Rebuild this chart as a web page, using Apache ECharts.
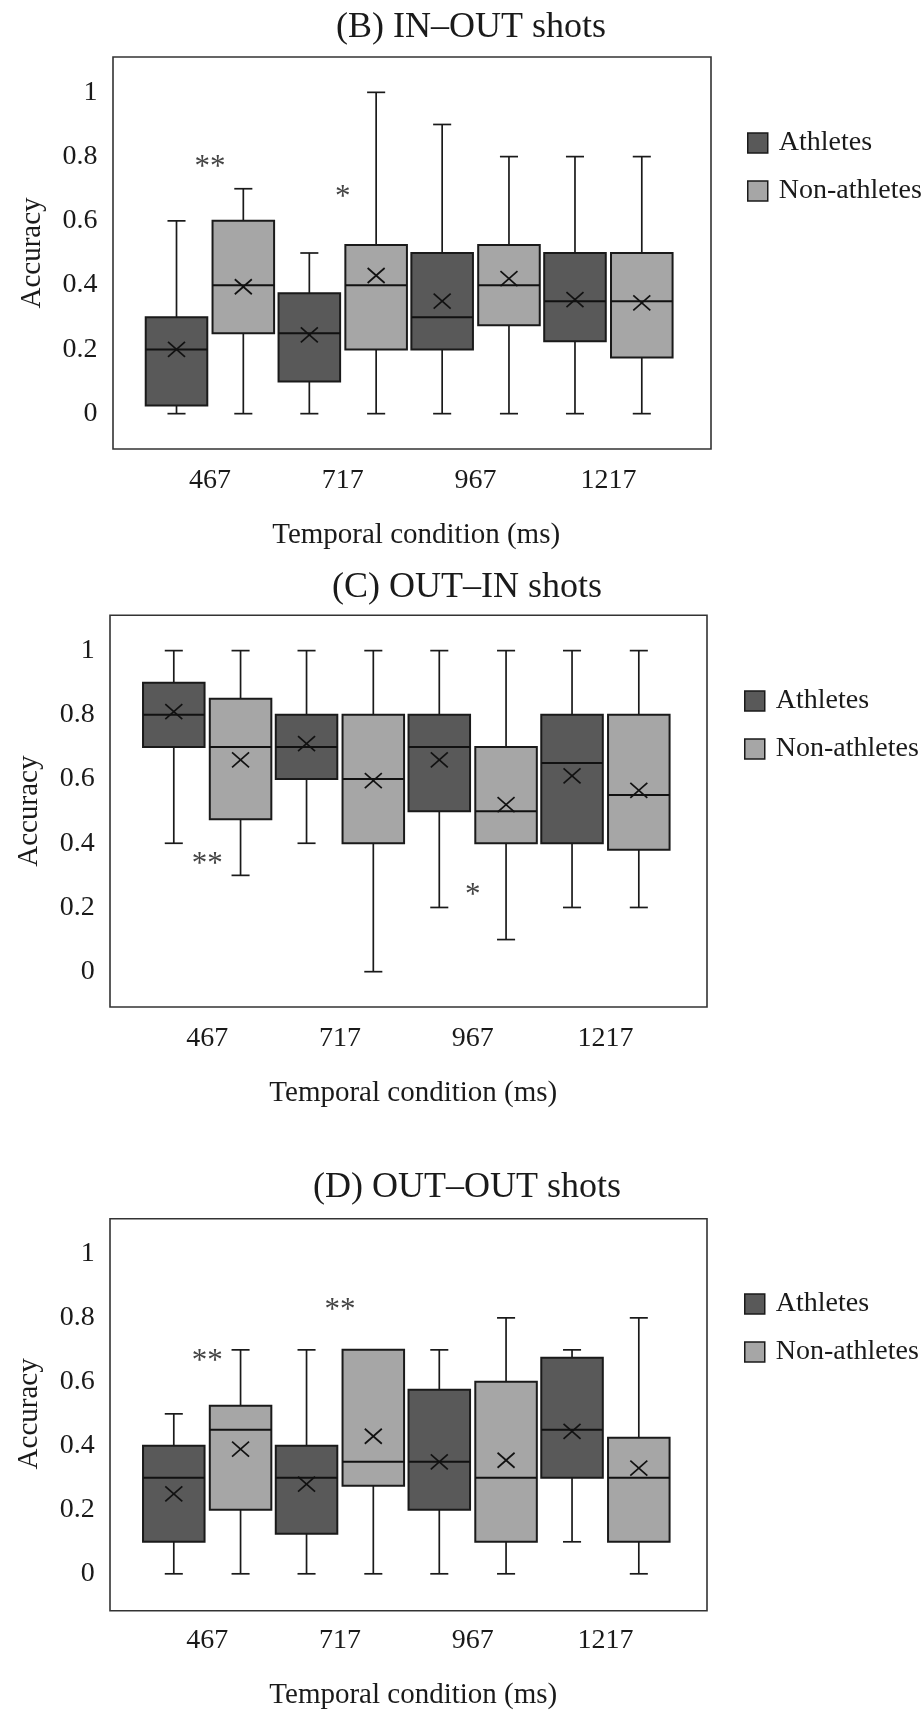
<!DOCTYPE html>
<html><head><meta charset="utf-8">
<script src="https://cdn.jsdelivr.net/npm/echarts@6/dist/echarts.min.js"></script>
<style>html,body{margin:0;padding:0;background:#fff}#c{width:921px;height:1711px}</style>
</head><body><div id="c"></div>
<script>
// ---------- DATA ----------
const categories = ['467', '717', '967', '1217'];
const yTickValues = [0, 0.2, 0.4, 0.6, 0.8, 1];
const seriesNames = ['Athletes', 'Non-athletes'];
const titles = ['(B) IN\u2013OUT shots', '(C) OUT\u2013IN shots', '(D) OUT\u2013OUT shots'];
const xAxisTitle = 'Temporal condition (ms)';
const yAxisTitle = 'Accuracy';

// rows: [min, Q1, median, Q3, max]
const inOutAthletes    = [[0, 0.025, 0.2, 0.3, 0.6], [0, 0.1, 0.25, 0.375, 0.5], [0, 0.2, 0.3, 0.5, 0.9], [0, 0.225, 0.35, 0.5, 0.8]];
const inOutAthletesMean = [0.2, 0.245, 0.35, 0.355];
const inOutNon         = [[0, 0.25, 0.4, 0.6, 0.7], [0, 0.2, 0.4, 0.525, 1.0], [0, 0.275, 0.4, 0.525, 0.8], [0, 0.175, 0.35, 0.5, 0.8]];
const inOutNonMean     = [0.395, 0.43, 0.42, 0.345];
const inOutSig         = [[0, 0.785, '**'], [1, 0.69, '*']];

const outInAthletes    = [[0.4, 0.7, 0.8, 0.9, 1.0], [0.4, 0.6, 0.7, 0.8, 1.0], [0.2, 0.5, 0.7, 0.8, 1.0], [0.2, 0.4, 0.65, 0.8, 1.0]];
const outInAthletesMean = [0.81, 0.71, 0.66, 0.61];
const outInNon         = [[0.3, 0.475, 0.7, 0.85, 1.0], [0, 0.4, 0.6, 0.8, 1.0], [0.1, 0.4, 0.5, 0.7, 1.0], [0.2, 0.38, 0.55, 0.8, 1.0]];
const outInNonMean     = [0.66, 0.595, 0.52, 0.565];
const outInSig         = [[0, 0.35, '**'], [2, 0.255, '*']];

const outOutAthletes   = [[0, 0.1, 0.3, 0.4, 0.5], [0, 0.125, 0.3, 0.4, 0.7], [0, 0.2, 0.35, 0.575, 0.7], [0.1, 0.3, 0.45, 0.675, 0.7]];
const outOutAthletesMean = [0.25, 0.28, 0.35, 0.445];
const outOutNon        = [[0, 0.2, 0.45, 0.525, 0.7], [0, 0.275, 0.35, 0.7, 0.7], [0, 0.1, 0.3, 0.6, 0.8], [0, 0.1, 0.3, 0.425, 0.8]];
const outOutNonMean    = [0.39, 0.43, 0.355, 0.33];
const outOutSig        = [[0, 0.68, '**'], [1, 0.84, '**']];

// ---------- LAYOUT ----------
const FONT = '"Liberation Serif", "Times New Roman", serif';
const TXT = '#1a1a1a';
const DARK = '#595959', LIGHT = '#a6a6a6';
const panels = [
  { title: titles[0], tx: 471, ty: 28, frame: { left: 113, width: 598 }, data: { left: 143.5, width: 531.3 }, top: 57, height: 392,
    legend: { left: 742, top: 124 }, A: inOutAthletes, Am: inOutAthletesMean, N: inOutNon, Nm: inOutNonMean, sig: inOutSig },
  { title: titles[1], tx: 467, ty: 588, frame: { left: 110, width: 597 }, data: { left: 140.8, width: 531 }, top: 615.3, height: 391.7,
    legend: { left: 739, top: 682 }, A: outInAthletes, Am: outInAthletesMean, N: outInNon, Nm: outInNonMean, sig: outInSig },
  { title: titles[2], tx: 467, ty: 1188, frame: { left: 110, width: 597 }, data: { left: 140.8, width: 531 }, top: 1218.7, height: 392,
    legend: { left: 739, top: 1285 }, A: outOutAthletes, Am: outOutAthletesMean, N: outOutNon, Nm: outOutNonMean, sig: outOutSig }
];

function makeBoxRenderer(side, fill) {
  return function (params, api) {
    const ci = api.value(0);
    const band = api.size([1, 0])[0];
    const cx = api.coord([ci, 0])[0] + side * 0.2515 * band;
    const y = k => api.coord([ci, api.value(k)])[1];
    const yMin = y(1), yQ1 = y(2), yMed = y(3), yQ3 = y(4), yMax = y(5), yMean = y(6);
    const bw = 0.4635 * band, cw = 0.136 * band;
    const ls = { stroke: '#1a1a1a', lineWidth: 1.7 };
    const mx = 8.5, my = 7.5;
    return { type: 'group', children: [
      { type: 'line', shape: { x1: cx, y1: yQ1, x2: cx, y2: yMin }, style: ls },
      { type: 'line', shape: { x1: cx, y1: yQ3, x2: cx, y2: yMax }, style: ls },
      { type: 'line', shape: { x1: cx - cw / 2, y1: yMin, x2: cx + cw / 2, y2: yMin }, style: ls },
      { type: 'line', shape: { x1: cx - cw / 2, y1: yMax, x2: cx + cw / 2, y2: yMax }, style: ls },
      { type: 'rect', shape: { x: cx - bw / 2, y: yQ3, width: bw, height: yQ1 - yQ3 }, style: { fill: fill, stroke: '#1a1a1a', lineWidth: 2 } },
      { type: 'line', shape: { x1: cx - bw / 2, y1: yMed, x2: cx + bw / 2, y2: yMed }, style: { stroke: '#111', lineWidth: 2 } },
      { type: 'line', shape: { x1: cx - mx, y1: yMean - my, x2: cx + mx, y2: yMean + my }, style: { stroke: '#111', lineWidth: 1.7 } },
      { type: 'line', shape: { x1: cx - mx, y1: yMean + my, x2: cx + mx, y2: yMean - my }, style: { stroke: '#111', lineWidth: 1.7 } }
    ] };
  };
}

const option = { animation: false, backgroundColor: '#fff', grid: [], xAxis: [], yAxis: [], series: [], legend: [], graphic: [] };

panels.forEach((p, i) => {
  const fg = 2 * i, dg = 2 * i + 1;
  option.grid.push({ left: p.frame.left, width: p.frame.width, top: p.top, height: p.height, show: true, borderColor: '#333', borderWidth: 1.6, backgroundColor: 'transparent' });
  option.grid.push({ left: p.data.left, width: p.data.width, top: p.top, height: p.height });
  option.xAxis.push({ gridIndex: fg, type: 'value', show: false, min: 0, max: 1 });
  option.yAxis.push({ gridIndex: fg, type: 'value', show: false, min: 0, max: 1 });
  option.xAxis.push({
    gridIndex: dg, type: 'category', data: categories, boundaryGap: true,
    axisLine: { show: false }, axisTick: { show: false }, splitLine: { show: false },
    axisLabel: { margin: 18, color: TXT, fontFamily: FONT, fontSize: 28 },
    name: xAxisTitle, nameLocation: 'middle', nameGap: 72,
    nameTextStyle: { color: TXT, fontFamily: FONT, fontSize: 29, padding: [0, 0, 0, 14] }
  });
  option.yAxis.push({
    gridIndex: dg, type: 'value', min: -0.11, max: 1.11,
    axisLine: { show: false }, axisTick: { show: false }, splitLine: { show: false },
    axisLabel: { customValues: yTickValues, margin: 46, color: TXT, fontFamily: FONT, fontSize: 28,
      formatter: v => String(+v.toFixed(1)) },
    name: yAxisTitle, nameLocation: 'middle', nameGap: 97, nameRotate: 90,
    nameTextStyle: { color: TXT, fontFamily: FONT, fontSize: 29 }
  });
  const rowsA = p.A.map((r, k) => [k, ...r, p.Am[k]]);
  const rowsN = p.N.map((r, k) => [k, ...r, p.Nm[k]]);
  option.series.push({ type: 'custom', name: seriesNames[0], xAxisIndex: dg, yAxisIndex: dg, silent: true,
    encode: { x: 0, y: [1, 2, 3, 4, 5, 6] }, data: rowsA, renderItem: makeBoxRenderer(-1, DARK) });
  option.series.push({ type: 'custom', name: seriesNames[1], xAxisIndex: dg, yAxisIndex: dg, silent: true,
    encode: { x: 0, y: [1, 2, 3, 4, 5, 6] }, data: rowsN, renderItem: makeBoxRenderer(1, LIGHT) });
  const sig = p.sig;
  option.series.push({ type: 'custom', name: 'sig' + i, xAxisIndex: dg, yAxisIndex: dg, silent: true,
    encode: { x: 0, y: 1 }, data: sig.map(s => [s[0], s[1]]),
    renderItem: (params, api) => {
      const pt = api.coord([api.value(0), api.value(1)]);
      return { type: 'text', x: pt[0], y: pt[1] + 6, style: { text: sig[params.dataIndex][2], fill: '#444', font: '31px ' + FONT, align: 'center', verticalAlign: 'middle' } };
    } });
  option.legend.push({
    left: p.legend.left, top: p.legend.top, orient: 'vertical', itemWidth: 20, itemHeight: 20, itemGap: 20,
    selectedMode: false,
    textStyle: { color: TXT, fontFamily: FONT, fontSize: 28, padding: [0, 0, 0, 6] },
    data: [
      { name: seriesNames[0], icon: 'rect', itemStyle: { color: DARK, borderColor: '#1a1a1a', borderWidth: 1.5 } },
      { name: seriesNames[1], icon: 'rect', itemStyle: { color: LIGHT, borderColor: '#1a1a1a', borderWidth: 1.5 } }
    ]
  });
  option.graphic.push({ type: 'text', x: p.tx, y: p.ty, style: { text: p.title, fill: TXT, font: '36px ' + FONT, align: 'center', verticalAlign: 'middle' } });
});

const chart = echarts.init(document.getElementById('c'));
chart.setOption(option);
</script></body></html>
